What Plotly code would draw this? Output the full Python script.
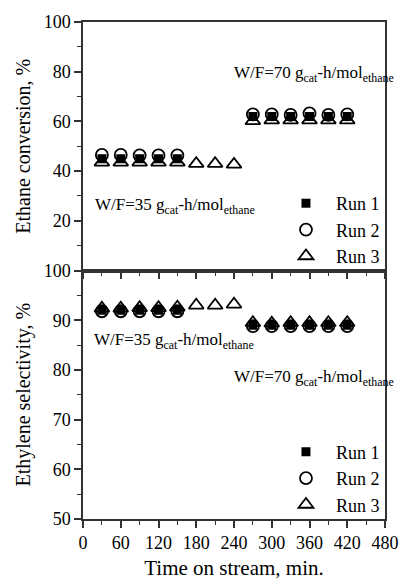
import plotly.graph_objects as go

time_min = [30, 60, 90, 120, 150, 180, 210, 240, 270, 300, 330, 360, 390, 420]

conv_run1 = [45, 45, 45, 45, 45, None, None, None, 62, 62, 62, 62, 62, 62]
conv_run2 = [46.5, 46.5, 46.3, 46.3, 46.3, None, None, None, 62.8, 62.8, 62.6, 63.2, 62.6, 62.8]
conv_run3 = [43.5, 43.5, 43.5, 43.5, 43.5, 43.0, 43.0, 42.7, 60.2, 60.5, 60.5, 60.5, 60.5, 60.5]

sel_run1 = [92.0, 92.0, 92.0, 92.0, 92.0, None, None, None, 89.0, 89.0, 89.0, 89.0, 89.0, 89.0]
sel_run2 = [91.8, 91.8, 91.8, 91.8, 91.8, None, None, None, 88.8, 88.8, 88.8, 88.8, 88.8, 88.8]
sel_run3 = [92.4, 92.4, 92.5, 92.5, 92.6, 93.0, 93.0, 93.2, 89.5, 89.4, 89.5, 89.5, 89.5, 89.5]

run_names = ["Run 1", "Run 2", "Run 3"]
FONT = "'Liberation Serif', 'Times New Roman', Times, serif"

fig = go.Figure()

styles = [
    dict(symbol="square", size=9, color="black"),
    dict(symbol="circle-open", size=12, color="black", line=dict(width=1.8, color="black")),
    dict(symbol="triangle-up-open", size=13, color="black", line=dict(width=1.8, color="black")),
]

for name, ys, st in zip(run_names, [conv_run1, conv_run2, conv_run3], styles):
    fig.add_trace(go.Scatter(x=time_min, y=ys, mode="markers", name=name,
                             marker=st, xaxis="x", yaxis="y", legend="legend"))
for name, ys, st in zip(run_names, [sel_run1, sel_run2, sel_run3], styles):
    fig.add_trace(go.Scatter(x=time_min, y=ys, mode="markers", name=name,
                             marker=st, xaxis="x2", yaxis="y2", legend="legend2"))

axis_common = dict(showline=True, linecolor="#333", linewidth=1.5, mirror=True,
                   ticks="outside", ticklen=7, tickwidth=1.5, tickcolor="#333",
                   showgrid=False, zeroline=False,
                   tickfont=dict(family=FONT, size=18, color="black"))
minor_common = dict(ticks="outside", ticklen=4, tickwidth=1.2, tickcolor="#333")

fig.update_layout(
    width=411, height=588,
    margin=dict(l=83, r=15, t=22, b=58),
    paper_bgcolor="white", plot_bgcolor="white",
    font=dict(family=FONT, color="black"),
    xaxis=dict(domain=[0, 1], anchor="y", range=[0, 480], tickvals=list(range(0, 481, 60)),
               showticklabels=False, minor=dict(dtick=30, **minor_common),
               **axis_common),
    yaxis=dict(domain=[0.5, 1], anchor="x", range=[0, 100], tickvals=[20, 40, 60, 80, 100],
               minor=dict(dtick=10, **minor_common),
               title=dict(text="Ethane conversion, %", font=dict(family=FONT, size=20), standoff=8),
               **axis_common),
    xaxis2=dict(domain=[0, 1], anchor="y2", range=[0, 480], tickvals=list(range(0, 481, 60)),
                minor=dict(dtick=30, **minor_common),
                title=dict(text="Time on stream, min.", font=dict(family=FONT, size=21), standoff=8),
                **axis_common),
    yaxis2=dict(domain=[0, 0.5], anchor="x2", range=[50, 100], tickvals=[50, 60, 70, 80, 90, 100],
                minor=dict(dtick=5, **minor_common),
                title=dict(text="Ethylene selectivity, %", font=dict(family=FONT, size=20), standoff=8),
                **axis_common),
    legend=dict(x=0.639, y=0.672, xanchor="left", yanchor="top", bgcolor="rgba(0,0,0,0)",
                font=dict(family=FONT, size=18), tracegroupgap=0, itemwidth=50),
    legend2=dict(x=0.639, y=0.172, xanchor="left", yanchor="top", bgcolor="rgba(0,0,0,0)",
                 font=dict(family=FONT, size=18), tracegroupgap=0, itemwidth=50),
)

ann_font = dict(family=FONT, size=17, color="black")
fig.add_annotation(x=0.492, y=0.895, xref="paper", yref="paper", xanchor="left", yanchor="middle",
                   text="W/F=70 g<sub>cat</sub>-h/mol<sub>ethane</sub>", showarrow=False, font=ann_font)
fig.add_annotation(x=0.032, y=0.630, xref="paper", yref="paper", xanchor="left", yanchor="middle",
                   text="W/F=35 g<sub>cat</sub>-h/mol<sub>ethane</sub>", showarrow=False, font=ann_font)
fig.add_annotation(x=0.029, y=0.358, xref="paper", yref="paper", xanchor="left", yanchor="middle",
                   text="W/F=35 g<sub>cat</sub>-h/mol<sub>ethane</sub>", showarrow=False, font=ann_font)
fig.add_annotation(x=0.492, y=0.283, xref="paper", yref="paper", xanchor="left", yanchor="middle",
                   text="W/F=70 g<sub>cat</sub>-h/mol<sub>ethane</sub>", showarrow=False, font=ann_font)

fig.write_html("out.html")
